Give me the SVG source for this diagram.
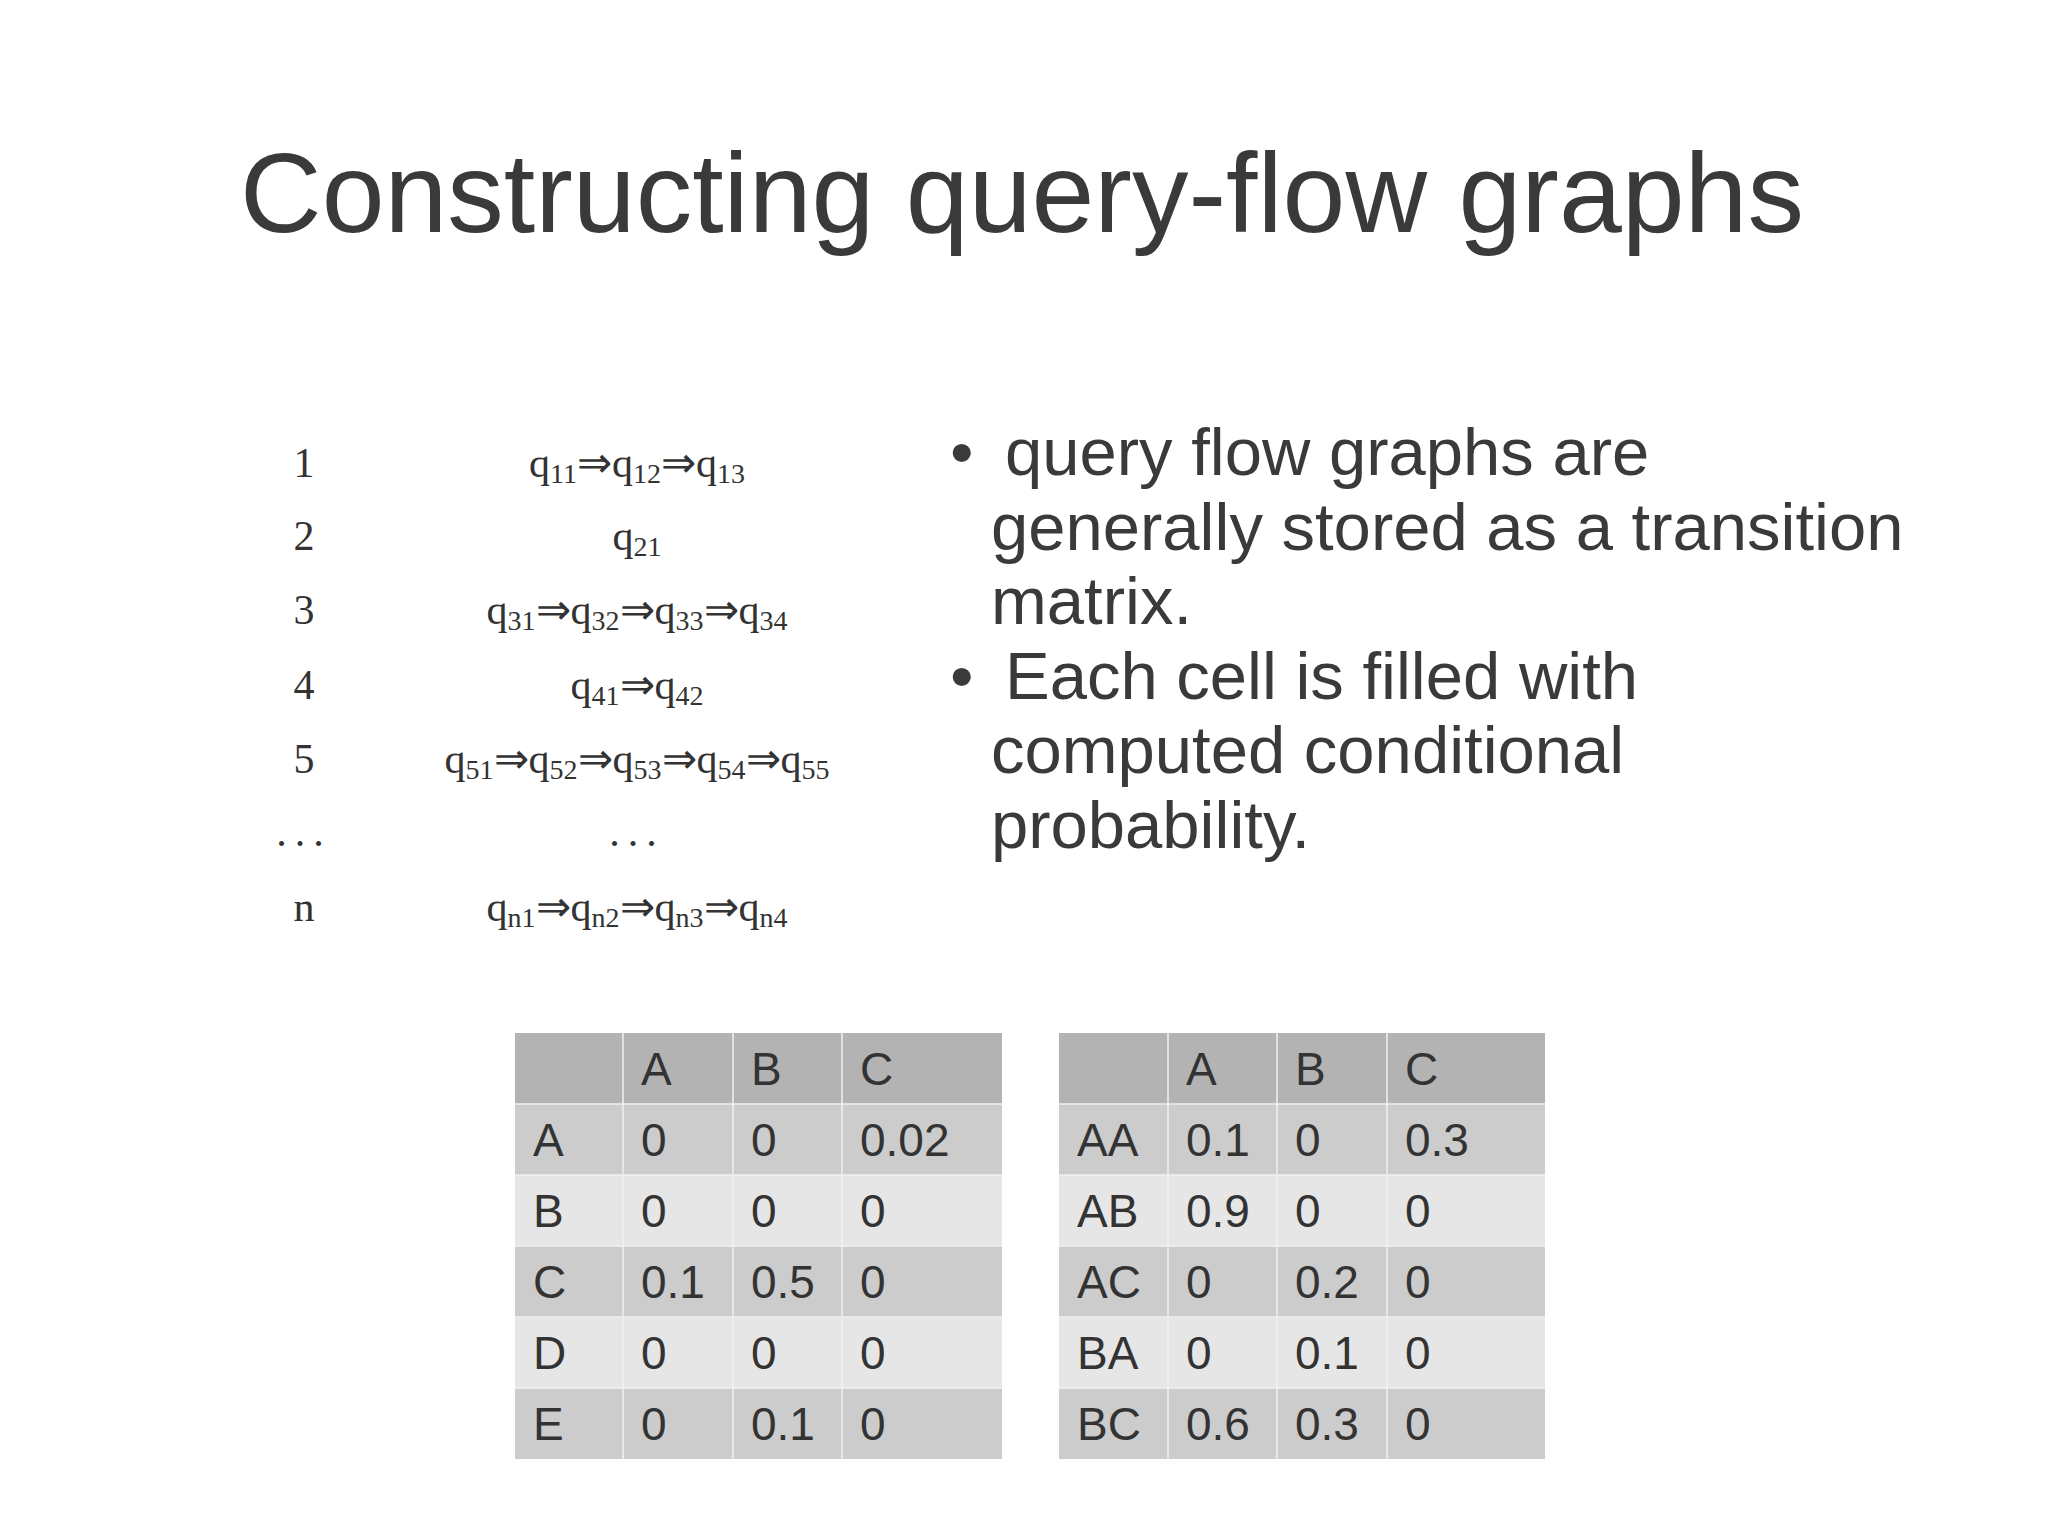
<svg xmlns="http://www.w3.org/2000/svg" width="2048" height="1535" viewBox="0 0 2048 1535">
<style>
.t{font-family:"Liberation Sans",Arial,sans-serif;fill:#3a3a3a}
.s{font-family:"Liberation Serif","Times New Roman",serif;fill:#333;font-size:42px}
.s tspan.b{font-size:28px}
.c{font-family:"Liberation Sans",Arial,sans-serif;fill:#333;font-size:46px}
.h{fill:#b3b3b3}.d{fill:#cccccc}.l{fill:#e6e6e6}
.g line{stroke:#f0f0f0;stroke-width:1.5}
</style>
<rect width="2048" height="1535" fill="#fff"/>
<g id="title"><text class="t" x="1022" y="232" font-size="113" text-anchor="middle">Constructing query-flow graphs</text></g>
<g id="bullets" class="t" font-size="67">
<text x="950" y="475">•</text><text x="1005" y="475">query flow graphs are</text>
<text x="991" y="550">generally stored as a transition</text>
<text x="991" y="624">matrix.</text>
<text x="950" y="699">•</text><text x="1005" y="699">Each cell is filled with</text>
<text x="991" y="773">computed conditional</text>
<text x="991" y="848">probability.</text>
</g>
<g id="sequences" class="s">
<text x="304" y="477" text-anchor="middle">1</text>
<text x="304" y="550" text-anchor="middle">2</text>
<text x="304" y="624" text-anchor="middle">3</text>
<text x="304" y="699" text-anchor="middle">4</text>
<text x="304" y="773" text-anchor="middle">5</text>
<text x="304" y="846" text-anchor="middle" letter-spacing="8">...</text>
<text x="304" y="921" text-anchor="middle">n</text>
<text x="637" y="477" text-anchor="middle">q<tspan class="b" dy="6">11</tspan><tspan dy="-6">⇒q</tspan><tspan class="b" dy="6">12</tspan><tspan dy="-6">⇒q</tspan><tspan class="b" dy="6">13</tspan></text>
<text x="637" y="550" text-anchor="middle">q<tspan class="b" dy="6">21</tspan></text>
<text x="637" y="624" text-anchor="middle">q<tspan class="b" dy="6">31</tspan><tspan dy="-6">⇒q</tspan><tspan class="b" dy="6">32</tspan><tspan dy="-6">⇒q</tspan><tspan class="b" dy="6">33</tspan><tspan dy="-6">⇒q</tspan><tspan class="b" dy="6">34</tspan></text>
<text x="637" y="699" text-anchor="middle">q<tspan class="b" dy="6">41</tspan><tspan dy="-6">⇒q</tspan><tspan class="b" dy="6">42</tspan></text>
<text x="637" y="773" text-anchor="middle">q<tspan class="b" dy="6">51</tspan><tspan dy="-6">⇒q</tspan><tspan class="b" dy="6">52</tspan><tspan dy="-6">⇒q</tspan><tspan class="b" dy="6">53</tspan><tspan dy="-6">⇒q</tspan><tspan class="b" dy="6">54</tspan><tspan dy="-6">⇒q</tspan><tspan class="b" dy="6">55</tspan></text>
<text x="637" y="846" text-anchor="middle" letter-spacing="8">...</text>
<text x="637" y="921" text-anchor="middle">q<tspan class="b" dy="6">n1</tspan><tspan dy="-6">⇒q</tspan><tspan class="b" dy="6">n2</tspan><tspan dy="-6">⇒q</tspan><tspan class="b" dy="6">n3</tspan><tspan dy="-6">⇒q</tspan><tspan class="b" dy="6">n4</tspan></text>
</g>
<g id="table1" class="g">
<rect class="h" x="515" y="1033" width="487" height="71"/>
<rect class="d" x="515" y="1104" width="487" height="71"/>
<rect class="l" x="515" y="1175" width="487" height="71"/>
<rect class="d" x="515" y="1246" width="487" height="71"/>
<rect class="l" x="515" y="1317" width="487" height="71"/>
<rect class="d" x="515" y="1388" width="487" height="71"/>
<line x1="623" y1="1033" x2="623" y2="1459"/><line x1="733" y1="1033" x2="733" y2="1459"/><line x1="842" y1="1033" x2="842" y2="1459"/>
<line x1="515" y1="1104" x2="1002" y2="1104"/><line x1="515" y1="1175" x2="1002" y2="1175"/><line x1="515" y1="1246" x2="1002" y2="1246"/><line x1="515" y1="1317" x2="1002" y2="1317"/><line x1="515" y1="1388" x2="1002" y2="1388"/>
<g class="c">
<text x="641" y="1085">A</text><text x="751" y="1085">B</text><text x="860" y="1085">C</text>
<text x="533" y="1156">A</text><text x="641" y="1156">0</text><text x="751" y="1156">0</text><text x="860" y="1156">0.02</text>
<text x="533" y="1227">B</text><text x="641" y="1227">0</text><text x="751" y="1227">0</text><text x="860" y="1227">0</text>
<text x="533" y="1298">C</text><text x="641" y="1298">0.1</text><text x="751" y="1298">0.5</text><text x="860" y="1298">0</text>
<text x="533" y="1369">D</text><text x="641" y="1369">0</text><text x="751" y="1369">0</text><text x="860" y="1369">0</text>
<text x="533" y="1440">E</text><text x="641" y="1440">0</text><text x="751" y="1440">0.1</text><text x="860" y="1440">0</text>
</g>
</g>
<g id="table2" class="g">
<rect class="h" x="1059" y="1033" width="486" height="71"/>
<rect class="d" x="1059" y="1104" width="486" height="71"/>
<rect class="l" x="1059" y="1175" width="486" height="71"/>
<rect class="d" x="1059" y="1246" width="486" height="71"/>
<rect class="l" x="1059" y="1317" width="486" height="71"/>
<rect class="d" x="1059" y="1388" width="486" height="71"/>
<line x1="1168" y1="1033" x2="1168" y2="1459"/><line x1="1277" y1="1033" x2="1277" y2="1459"/><line x1="1387" y1="1033" x2="1387" y2="1459"/>
<line x1="1059" y1="1104" x2="1545" y2="1104"/><line x1="1059" y1="1175" x2="1545" y2="1175"/><line x1="1059" y1="1246" x2="1545" y2="1246"/><line x1="1059" y1="1317" x2="1545" y2="1317"/><line x1="1059" y1="1388" x2="1545" y2="1388"/>
<g class="c">
<text x="1186" y="1085">A</text><text x="1295" y="1085">B</text><text x="1405" y="1085">C</text>
<text x="1077" y="1156">AA</text><text x="1186" y="1156">0.1</text><text x="1295" y="1156">0</text><text x="1405" y="1156">0.3</text>
<text x="1077" y="1227">AB</text><text x="1186" y="1227">0.9</text><text x="1295" y="1227">0</text><text x="1405" y="1227">0</text>
<text x="1077" y="1298">AC</text><text x="1186" y="1298">0</text><text x="1295" y="1298">0.2</text><text x="1405" y="1298">0</text>
<text x="1077" y="1369">BA</text><text x="1186" y="1369">0</text><text x="1295" y="1369">0.1</text><text x="1405" y="1369">0</text>
<text x="1077" y="1440">BC</text><text x="1186" y="1440">0.6</text><text x="1295" y="1440">0.3</text><text x="1405" y="1440">0</text>
</g>
</g>
</svg>
